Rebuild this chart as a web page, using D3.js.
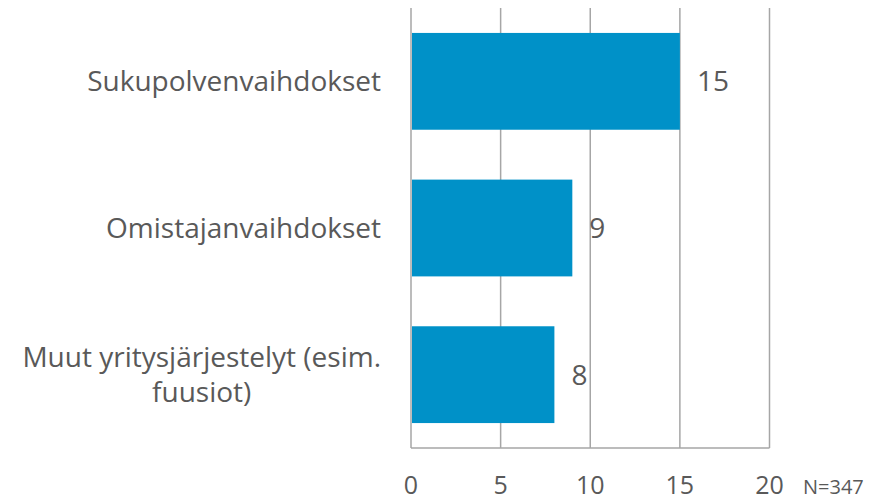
<!DOCTYPE html>
<html>
<head>
<meta charset="utf-8">
<script src="https://cdn.jsdelivr.net/npm/d3@7"></script>
<style>
  body { margin: 0; background: #fff; }
  text { font-family: "Open Sans", Lato, sans-serif; fill: #595959; }
</style>
</head>
<body>
<div id="chart"></div>
<script>
// data
var categories = ["Sukupolvenvaihdokset", "Omistajanvaihdokset", "Muut yritysjärjestelyt (esim.|fuusiot)"];
var values = [15, 9, 8];
var ticks = [0, 5, 10, 15, 20];
var note = "N=347";

var width = 881
    height = 502

var svg = d3.select("#chart")
  .append("svg")
    .attr("width", width)
    .attr("height", height);

var x = d3.scaleLinear()
  .domain([0, 20])
  .range([411, 769.5]);

var y = d3.scaleBand()
  .domain(categories)
  .range([8, 448])
  .paddingInner(0.34)
  .paddingOuter(0.17);

// vertical gridlines
svg.selectAll("line.grid")
  .data(ticks)
  .enter()
  .append("line")
  .attr("x1", d => x(d))
  .attr("x2", d => x(d))
  .attr("y1", 8)
  .attr("y2", 448)
  .attr("stroke", "#a6a6a6")
  .attr("stroke-width", 1.5);

// bottom axis line
svg.append("line")
  .attr("x1", x(0))
  .attr("x2", x(20))
  .attr("y1", 448)
  .attr("y2", 448)
  .attr("stroke", "#a6a6a6")
  .attr("stroke-width", 1.5);

// bars
svg.selectAll("rect.bar")
  .data(categories)
  .enter()
  .append("rect")
  .attr("x", x(0) + 1)
  .attr("y", d => y(d))
  .attr("width", (d, i) => x(values[i]) - x(0) - 1)
  .attr("height", y.bandwidth())
  .attr("fill", "#0091c8");

// value labels
svg.selectAll("text.val")
  .data(categories)
  .enter()
  .append("text")
  .attr("x", (d, i) => x(values[i]) + 17)
  .attr("y", d => y(d) + y.bandwidth() / 2)
  .attr("dy", "0.36em")
  .style("font-size", "28px")
  .text((d, i) => values[i]);

// category labels
svg.selectAll("text.cat")
  .data(categories)
  .enter()
  .append("text")
  .style("font-size", "28px")
  .each(function(d) {
    var lines = d.split("|");
    var el = d3.select(this);
    var cy = y(d) + y.bandwidth() / 2;
    lines.forEach((l, j) => {
      el.append("tspan")
        .attr("y", cy + (j - (lines.length - 1) / 2) * 35)
        .attr("dy", "0.36em")
        .text(l);
    });
    // measure widest line, then right-align block at 381 with centred lines
    var w = d3.max(el.selectAll("tspan").nodes(), n => n.getComputedTextLength());
    if (lines.length > 1) {
      el.attr("text-anchor", "middle").selectAll("tspan").attr("x", 381 - w / 2);
    } else {
      el.attr("text-anchor", "end").selectAll("tspan").attr("x", 381);
    }
  });

// tick labels
svg.selectAll("text.tick")
  .data(ticks)
  .enter()
  .append("text")
  .attr("x", d => x(d))
  .attr("y", 494)
  .attr("text-anchor", "middle")
  .style("font-size", "25px")
  .text(d => d);

svg.append("text")
  .attr("x", 803)
  .attr("y", 494)
  .style("font-size", "20px")
  .text(note);
</script>
</body>
</html>
